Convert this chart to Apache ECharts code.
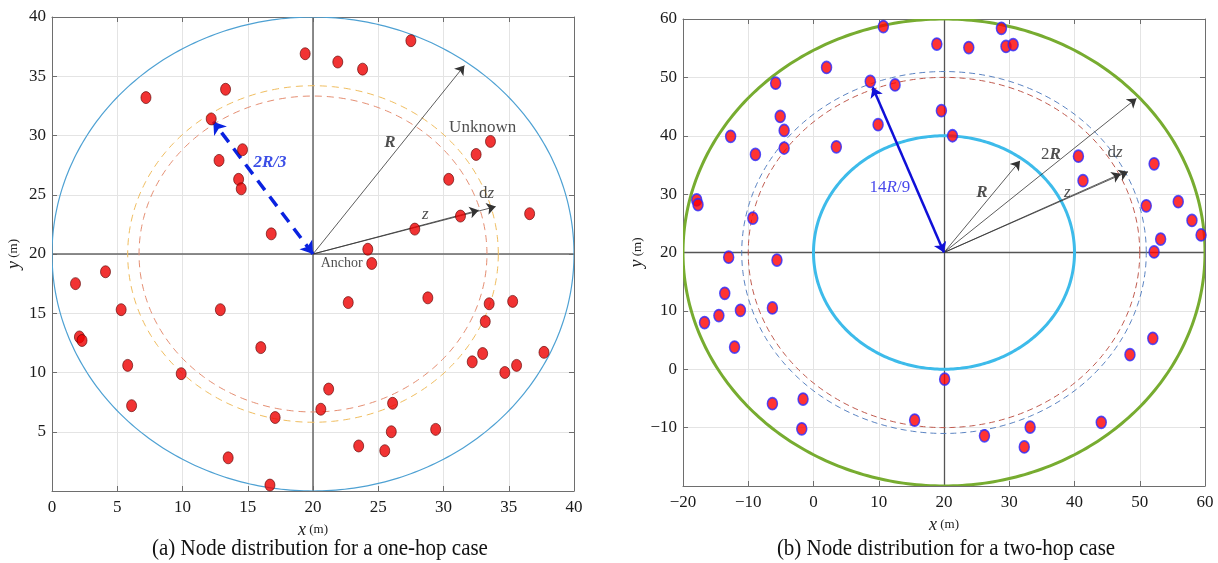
<!DOCTYPE html>
<html>
<head>
<meta charset="utf-8">
<script src="https://cdn.jsdelivr.net/npm/echarts@6/dist/echarts.min.js"></script>
<style>
html, body { margin: 0; padding: 0; background: #fff; }
#main { width: 1218px; height: 563px; }
</style>
</head>
<body>
<div id="main"></div>
<script>
// ---- (a) one-hop case ----
const nodesA = [
  [7.2, 33.2], [12.2, 31.4], [13.3, 33.9], [19.4, 36.9], [12.8, 27.9], [14.6, 28.8], [14.3, 26.3], [14.5, 25.5], [16.8, 21.7],
  [21.9, 36.2], [23.8, 35.6], [27.5, 38.0], [33.6, 29.5], [32.5, 28.4], [30.4, 26.3], [31.3, 23.2], [27.8, 22.1], [36.6, 23.4], [24.2, 20.4],
  [1.8, 17.5], [4.1, 18.5], [5.3, 15.3], [2.1, 13.0], [2.3, 12.7], [5.8, 10.6], [6.1, 7.2], [9.9, 9.9], [12.9, 15.3], [16.0, 12.1],
  [17.1, 6.2], [13.5, 2.8], [16.7, 0.5],
  [24.5, 19.2], [22.7, 15.9], [28.8, 16.3], [33.5, 15.8], [35.3, 16.0], [33.2, 14.3], [33.0, 11.6], [32.2, 10.9], [34.7, 10.0],
  [35.6, 10.6], [37.7, 11.7], [21.2, 8.6], [20.6, 6.9], [26.1, 7.4], [26.0, 5.0], [29.4, 5.2], [23.5, 3.8], [25.5, 3.4]
];
const outerRingA = [[20, 20, 20]];
const redRingA = [[20, 20, 13.33]];
const yellowRingA = [[20, 20, 14.2]];
const crossA = [[0, 20, 40, 20], [20, 0, 20, 40]];
const arrowsA = [[20, 20, 31.6, 35.9], [20, 20, 32.7, 23.7], [20, 20, 34.0, 24.0]];
const dashArrowA = [[20, 20, 12.36, 31.17]];
const notesA = [[33.0, 30.7, 'Unknown'], [22.2, 19.2, 'Anchor'], [25.9, 29.4, 'R'], [28.6, 23.3, 'z'], [33.3, 25.1, 'dz'], [16.7, 27.7, '2R/3']];

// ---- (b) two-hop case ----
const nodesB = [
  [10.7, 58.7], [2.0, 51.7], [-5.8, 49.0], [8.7, 49.3], [12.5, 48.7], [-5.1, 43.3], [-4.5, 40.9], [-12.7, 39.9], [9.9, 41.9],
  [3.5, 38.1], [-4.5, 37.9], [-8.9, 36.8], [-17.9, 29.0], [-17.7, 28.2], [-9.3, 25.9], [-13.0, 19.2], [-5.6, 18.7],
  [28.8, 58.4], [18.9, 55.7], [23.8, 55.1], [29.5, 55.3], [30.6, 55.6], [19.6, 44.3], [21.3, 40.0], [40.6, 36.5], [41.3, 32.3],
  [52.2, 35.2], [51.0, 28.0], [55.9, 28.7], [58.0, 25.5], [59.4, 23.0], [53.2, 22.3], [52.2, 20.1],
  [-13.6, 13.0], [-14.5, 9.2], [-16.7, 8.0], [-11.2, 10.1], [-6.3, 10.5], [-12.1, 3.8], [-6.3, -5.9], [-1.6, -5.1], [-1.8, -10.2],
  [15.5, -8.7], [20.1, -1.7], [26.2, -11.4], [33.2, -9.9], [32.3, -13.3], [44.1, -9.1], [48.5, 2.5], [52.0, 5.3]
];
const greenRingB = [[20, 20, 40]];
const cyanRingB = [[20, 20, 20]];
const redRingB = [[20, 20, 30]];
const blueRingB = [[20, 20, 31]];
const crossB = [[-20, 20, 60, 20], [20, -20, 20, 60]];
const arrowsB = [[20, 20, 31.65, 35.7], [20, 20, 49.5, 46.4], [20, 20, 47.1, 33.5], [20, 20, 48.2, 33.85]];
const blueArrowB = [[20, 20, 9.07, 48.3]];
const notesB = [[25.8, 30.2, 'R'], [36.4, 36.7, '2R'], [38.9, 30.2, 'z'], [46.2, 37.1, 'dz'], [11.7, 31.1, '14R/9']];

const captionA = '(a) Node distribution for a one-hop case';
const captionB = '(b) Node distribution for a two-hop case';

const serif = '"Liberation Serif", "Times New Roman", serif';
const ellipse = 'path://M0 1A1 1 0 1 0 2 1A1 1 0 1 0 0 1Z';

const rich = {
  n: { fontFamily: serif, fontSize: 17, color: '#222' },
  s: { fontFamily: serif, fontSize: 14, color: '#222' },
  i: { fontFamily: serif, fontSize: 17, color: '#222', fontStyle: 'italic' },
  x: { fontFamily: serif, fontSize: 18, color: '#222', fontStyle: 'italic' },
  bi: { fontFamily: serif, fontSize: 17, color: '#222', fontStyle: 'italic', fontWeight: 'bold' },
  bb: { fontFamily: serif, fontSize: 17, color: '#0a22e0', fontStyle: 'italic', fontWeight: 'bold' },
  bl: { fontFamily: serif, fontSize: 17, color: '#1515e6' },
  bli: { fontFamily: serif, fontSize: 17, color: '#1515e6', fontStyle: 'italic' },
  m: { fontFamily: serif, fontSize: 13, color: '#222' }
};
const richOf = {
  'Unknown': '{n|Unknown}',
  'Anchor': '{s|Anchor}',
  'R': '{bi|R}',
  'z': '{i|z}',
  'dz': '{n|d}{i|z}',
  '2R/3': '{bb|2R/3}',
  '2R': '{n|2}{bi|R}',
  '14R/9': '{bl|14}{bli|R}{bl|/9}'
};

function ringSeries(ai, rings, color, width, dash) {
  return {
    type: 'custom', xAxisIndex: ai, yAxisIndex: ai, data: rings, silent: true, z: 2, clip: true,
    renderItem: function (params, api) {
      const cx = api.value(0), cy = api.value(1), r = api.value(2);
      const pts = [];
      for (let k = 0; k <= 360; k++) {
        const a = k / 360 * Math.PI * 2;
        pts.push(api.coord([cx + r * Math.cos(a), cy + r * Math.sin(a)]));
      }
      return {
        type: 'polyline', shape: { points: pts },
        style: { stroke: color, lineWidth: width, fill: null, lineDash: dash || null }
      };
    }
  };
}

function segSeries(ai, segs, color, width, type, heads, size, z) {
  return {
    type: 'lines', coordinateSystem: 'cartesian2d', xAxisIndex: ai, yAxisIndex: ai, silent: true, z: z,
    symbol: heads, symbolSize: size,
    lineStyle: { color: color, width: width, type: type, opacity: 1, curveness: 0 },
    data: segs.map(s => ({ coords: [[s[0], s[1]], [s[2], s[3]]] }))
  };
}

function noteSeries(ai, notes) {
  return {
    type: 'scatter', xAxisIndex: ai, yAxisIndex: ai, symbolSize: 0, silent: true, z: 7,
    data: notes.map(n => ({ value: [n[0], n[1]], name: n[2] })),
    label: { show: true, position: 'inside', formatter: p => richOf[p.name], rich: rich }
  };
}

const fmtMinus = v => String(v).replace('-', '\u2212');

function xAxisOf(gi, min, max, step, top) {
  return {
    gridIndex: gi, type: 'value', min: min, max: max, interval: step, position: top ? 'top' : 'bottom',
    axisLine: { show: true, onZero: false, lineStyle: { color: '#6e6e6e', width: 1 } },
    axisTick: { show: true, inside: true, length: 5, lineStyle: { color: '#6e6e6e' } },
    axisLabel: { show: !top, fontFamily: serif, fontSize: 17, color: '#1a1a1a', margin: 8, formatter: fmtMinus },
    splitLine: { show: !top, lineStyle: { color: '#e4e4e4', width: 1 } },
    name: top ? '' : '{x|x}{m| (m)}', nameLocation: 'middle', nameGap: 21,
    nameTextStyle: { rich: rich }
  };
}
function yAxisOf(gi, min, max, step, right) {
  return {
    gridIndex: gi, type: 'value', min: min, max: max, interval: step, position: right ? 'right' : 'left',
    axisLine: { show: true, onZero: false, lineStyle: { color: '#6e6e6e', width: 1 } },
    axisTick: { show: true, inside: true, length: 5, lineStyle: { color: '#6e6e6e' } },
    axisLabel: {
      show: !right, fontFamily: serif, fontSize: 17, color: '#1a1a1a', margin: 6,
      formatter: v => (v === min ? '' : fmtMinus(v))
    },
    splitLine: { show: !right, lineStyle: { color: '#e4e4e4', width: 1 } },
    name: right ? '' : '{x|y}{m| (m)}', nameLocation: 'middle', nameGap: 29,
    nameTextStyle: { rich: rich }
  };
}

const chart = echarts.init(document.getElementById('main'));
chart.setOption({
  animation: false,
  backgroundColor: '#fff',
  grid: [
    { left: 52, top: 17, width: 522, height: 474, outerBoundsMode: 'none' },
    { left: 683, top: 19, width: 522, height: 467, outerBoundsMode: 'none' }
  ],
  xAxis: [xAxisOf(0, 0, 40, 5, false), xAxisOf(0, 0, 40, 5, true), xAxisOf(1, -20, 60, 10, false), xAxisOf(1, -20, 60, 10, true)],
  yAxis: [yAxisOf(0, 0, 40, 5, false), yAxisOf(0, 0, 40, 5, true), yAxisOf(1, -20, 60, 10, false), yAxisOf(1, -20, 60, 10, true)],
  graphic: [
    { type: 'text', x: 320, y: 549, scaleY: 1.12, style: { text: captionA, font: '21px ' + serif, fill: '#111', align: 'center', verticalAlign: 'middle' } },
    { type: 'text', x: 946, y: 549, scaleY: 1.12, style: { text: captionB, font: '21px ' + serif, fill: '#111', align: 'center', verticalAlign: 'middle' } }
  ],
  series: [
    // (a)
    segSeries(0, crossA, '#666', 1.5, 'solid', ['none', 'none'], 0, 1),
    ringSeries(0, outerRingA, '#4ea1d3', 1.2),
    ringSeries(0, redRingA, '#e58e72', 1, [7, 5]),
    ringSeries(0, yellowRingA, '#f0bd5e', 1, [7, 5]),
    segSeries(0, arrowsA, '#333', 0.8, 'solid', ['none', 'arrow'], 9, 5),
    segSeries(0, dashArrowA, '#0a22e0', 3.5, [12, 8], ['arrow', 'arrow'], 12, 5),
    {
      type: 'scatter', xAxisIndex: 0, yAxisIndex: 0, symbol: ellipse, symbolSize: [10, 12], silent: true, z: 6,
      itemStyle: { color: '#ee0000', borderColor: '#5a0000', borderWidth: 0.8 },
      data: nodesA
    },
    noteSeries(0, notesA),
    // (b)
    segSeries(2, crossB, '#555', 1.3, 'solid', ['none', 'none'], 0, 1),
    ringSeries(2, greenRingB, '#77ac30', 3),
    ringSeries(2, cyanRingB, '#3dbbea', 3),
    ringSeries(2, redRingB, '#c05a4e', 1, [6, 4]),
    ringSeries(2, blueRingB, '#5a83c2', 1, [6, 4]),
    segSeries(2, arrowsB, '#333', 0.8, 'solid', ['none', 'arrow'], 9, 5),
    segSeries(2, blueArrowB, '#1010d8', 2.5, 'solid', ['arrow', 'arrow'], 10, 5),
    {
      type: 'scatter', xAxisIndex: 2, yAxisIndex: 2, symbol: ellipse, symbolSize: [10, 12], silent: true, z: 6,
      itemStyle: { color: '#ff0000', borderColor: '#2a2aff', borderWidth: 1.6 },
      data: nodesB
    },
    noteSeries(2, notesB)
  ]
});
</script>
</body>
</html>
